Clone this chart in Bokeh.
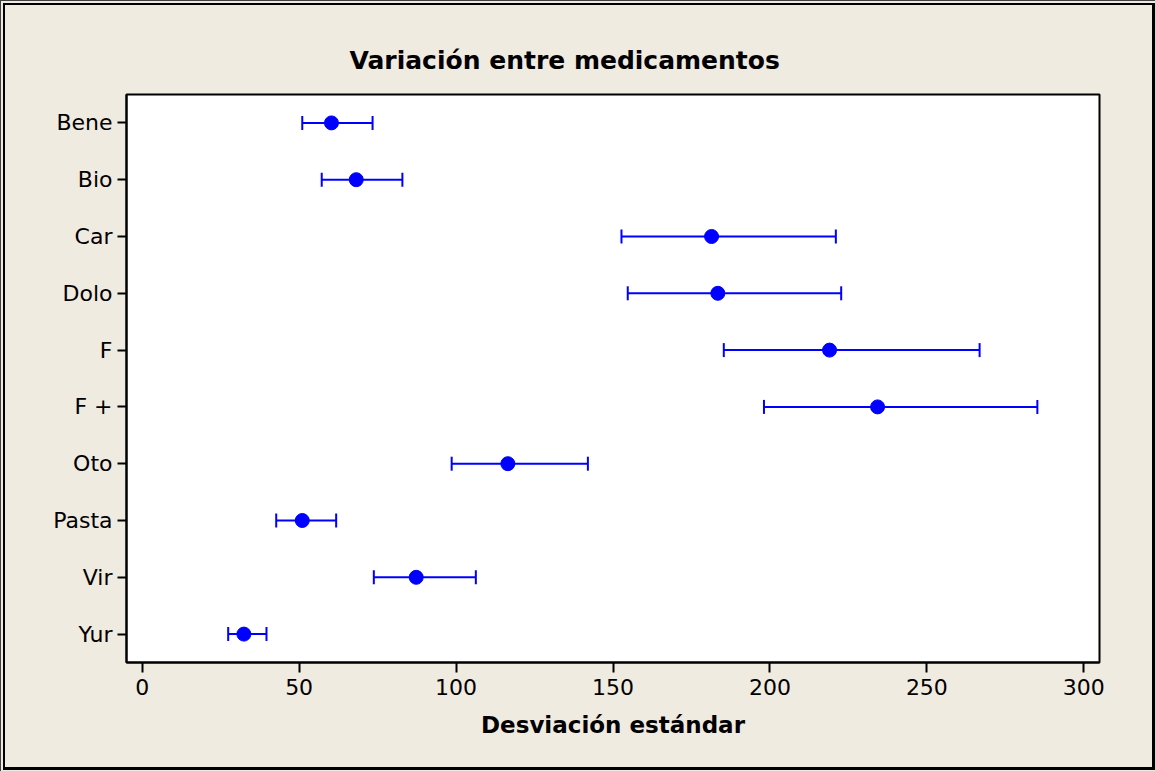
from bokeh.plotting import figure
from bokeh.models import ColumnDataSource, Whisker, TeeHead, FactorRange, Range1d, FixedTicker, InlineStyleSheet
from bokeh.embed import file_html
from bokeh.resources import INLINE

categories = ["Bene", "Bio", "Car", "Dolo", "F", "F +", "Oto", "Pasta", "Vir", "Yur"]
sd_point = [60.3, 68.2, 181.4, 183.4, 219.0, 234.3, 116.5, 51.0, 87.3, 32.4]
sd_lower = [51.0, 57.2, 152.7, 154.7, 185.3, 198.1, 98.6, 42.7, 73.8, 27.4]
sd_upper = [73.4, 82.9, 221.0, 222.7, 266.8, 285.2, 142.0, 61.8, 106.3, 39.6]
x_ticks = [0, 50, 100, 150, 200, 250, 300]

FONT = "DejaVu Sans"
BG = "#EFEBE1"
BLUE = "#0000FF"

src = ColumnDataSource(dict(cat=categories, pt=sd_point, lo=sd_lower, hi=sd_upper))

p = figure(width=1155, height=771, output_backend="svg", toolbar_location=None,
           y_range=FactorRange(factors=list(reversed(categories))),
           x_range=Range1d(-5, 305),
           min_border_left=126, min_border_right=56, min_border_top=94, min_border_bottom=109)

p.background_fill_color = "white"
p.border_fill_color = BG
p.outline_line_color = "black"
p.outline_line_width = 2
p.grid.visible = False

p.title.text = "Variación entre medicamentos"
p.title.text_font = FONT
p.title.text_font_style = "bold"
p.title.text_font_size = "25px"
p.title.align = "left"
p.title.offset = 223
p.title.standoff = 40
p.title.text_color = "black"

w = Whisker(source=src, base="cat", lower="lo", upper="hi", dimension="width",
            line_color=BLUE, line_width=2,
            lower_head=TeeHead(size=14, line_color=BLUE, line_width=2),
            upper_head=TeeHead(size=14, line_color=BLUE, line_width=2))
p.add_layout(w)
p.scatter(x="pt", y="cat", source=src, size=14, color=BLUE)

for ax in (p.xaxis[0], p.yaxis[0]):
    ax.axis_line_color = "black"
    ax.axis_line_width = 2
    ax.major_tick_line_color = "black"
    ax.major_tick_line_width = 2
    ax.major_tick_in = 0
    ax.minor_tick_line_color = None
    ax.major_label_text_font = FONT
    ax.major_label_text_font_size = "22px"
    ax.major_label_text_color = "black"

p.xaxis.ticker = FixedTicker(ticks=x_ticks)
p.xaxis.major_tick_out = 10
p.xaxis.major_label_standoff = 6
p.xaxis.axis_label = "Desviación estándar"
p.xaxis.axis_label_text_font = FONT
p.xaxis.axis_label_text_font_style = "bold"
p.xaxis.axis_label_text_font_size = "23px"
p.xaxis.axis_label_text_color = "black"
p.xaxis.axis_label_standoff = 14
p.yaxis.major_tick_out = 9
p.yaxis.major_label_standoff = 5

frame_css = """
:host::before {
  content: ""; position: absolute; left: 0; top: 0; right: 0; bottom: 0;
  border-left: 1px solid #404040; border-top: 1px solid #404040;
  box-sizing: border-box; pointer-events: none; z-index: 100;
}
:host::after {
  content: ""; position: absolute; left: 3px; top: 3px; right: 0; bottom: 1px;
  border-left: 2px solid #000; border-top: 2px solid #000;
  border-right: 3px solid #000; border-bottom: 3px solid #000;
  box-sizing: border-box; pointer-events: none; z-index: 100;
}
"""
p.stylesheets = [InlineStyleSheet(css=frame_css)]

open("out.html", "w").write(file_html(p, INLINE))
